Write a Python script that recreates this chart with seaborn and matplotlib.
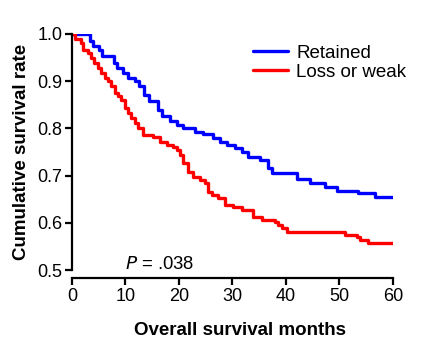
import matplotlib
matplotlib.use('Agg')
import matplotlib.pyplot as plt
import numpy as np
import pandas as pd
import seaborn as sns

# Kaplan-Meier step curves (months, survival)
t_retained = [0, 3.3, 3.9, 5.0, 5.6, 7.8, 8.5, 9.5, 10.5, 11.7, 12.6, 13.5, 14.4,
              16.0, 16.9, 18.3, 19.6, 20.7, 23.0, 24.5, 26.4, 27.7, 29.0, 30.5,
              31.8, 32.9, 35.1, 36.6, 37.4, 42.1, 44.5, 47.3, 49.5, 53.5, 56.6, 60]
s_retained = [1.0, 0.985, 0.975, 0.967, 0.953, 0.939, 0.928, 0.918, 0.907, 0.900,
              0.889, 0.871, 0.857, 0.840, 0.826, 0.815, 0.807, 0.800, 0.793, 0.788,
              0.780, 0.771, 0.765, 0.758, 0.750, 0.740, 0.733, 0.716, 0.706, 0.693,
              0.684, 0.676, 0.668, 0.663, 0.655, 0.655]

t_loss = [0, 0.6, 1.7, 2.0, 3.0, 3.5, 4.2, 4.8, 5.4, 6.1, 6.7, 7.3, 8.0, 8.6, 9.2,
          9.9, 10.5, 11.1, 11.7, 12.4, 13.3, 15.1, 16.4, 17.8, 18.9, 19.6, 20.2,
          20.7, 21.7, 22.6, 23.9, 24.9, 25.4, 26.2, 27.3, 28.6, 30.1, 31.8, 33.8,
          35.5, 37.9, 38.5, 39.3, 40.2, 51.0, 53.3, 53.8, 55.3, 60]
s_loss = [1.0, 0.99, 0.98, 0.967, 0.96, 0.949, 0.939, 0.928, 0.917, 0.907, 0.900,
          0.890, 0.875, 0.869, 0.861, 0.843, 0.833, 0.822, 0.811, 0.800, 0.787,
          0.782, 0.772, 0.765, 0.761, 0.754, 0.744, 0.727, 0.708, 0.698, 0.691,
          0.684, 0.666, 0.659, 0.652, 0.638, 0.634, 0.627, 0.613, 0.606, 0.602,
          0.595, 0.589, 0.581, 0.574, 0.571, 0.564, 0.558, 0.558]

x_ticks = [0, 10, 20, 30, 40, 50, 60]
y_ticks = [0.5, 0.6, 0.7, 0.8, 0.9, 1.0]

sns.set_theme(style='ticks')
plt.rcParams['font.family'] = ['Liberation Sans', 'DejaVu Sans']
plt.rcParams['text.color'] = 'black'
plt.rcParams['axes.labelcolor'] = 'black'

fig = plt.figure(figsize=(4.3, 3.53), dpi=100)
ax = fig.add_axes([0.1674, 0.235, 0.7465, 0.6688])

df_r = pd.DataFrame({'t': t_retained, 's': s_retained})
df_l = pd.DataFrame({'t': t_loss, 's': s_loss})
sns.lineplot(data=df_r, x='t', y='s', ax=ax, color='#0000ff', lw=2.4,
             drawstyle='steps-post', estimator=None, label='Retained')
sns.lineplot(data=df_l, x='t', y='s', ax=ax, color='#ff0000', lw=2.4,
             drawstyle='steps-post', estimator=None, label='Loss or weak')

ax.set_xlim(0, 60)
ax.set_ylim(0.5, 1.0)
ax.set_xticks(x_ticks)
ax.set_yticks(y_ticks)
ax.set_yticklabels(['%.1f' % v for v in y_ticks])
ax.tick_params(axis='both', labelsize=13, width=1.6, length=5, color='black',
               labelcolor='black', pad=2)

for side in ['top', 'right']:
    ax.spines[side].set_visible(False)
for side in ['left', 'bottom']:
    ax.spines[side].set_linewidth(1.6)
    ax.spines[side].set_color('black')
ax.spines['bottom'].set_position(('outward', 6))

ax.set_xlabel('Overall survival months', fontsize=13.5, fontweight='bold', labelpad=12)
ax.xaxis.set_label_coords(0.523, -0.22)
ax.set_ylabel('Cumulative survival rate', fontsize=13.5, fontweight='bold', labelpad=5)

ax.text(9.9, 0.511, r'$\it{P}$ = .038', fontsize=13.3, ha='left', va='center')

leg = ax.legend(loc='upper right', bbox_to_anchor=(1.095, 1.025), frameon=False,
                fontsize=13.5, handlelength=1.85, handletextpad=0.45, labelspacing=0.08)

fig.savefig('out.png', dpi=100)
